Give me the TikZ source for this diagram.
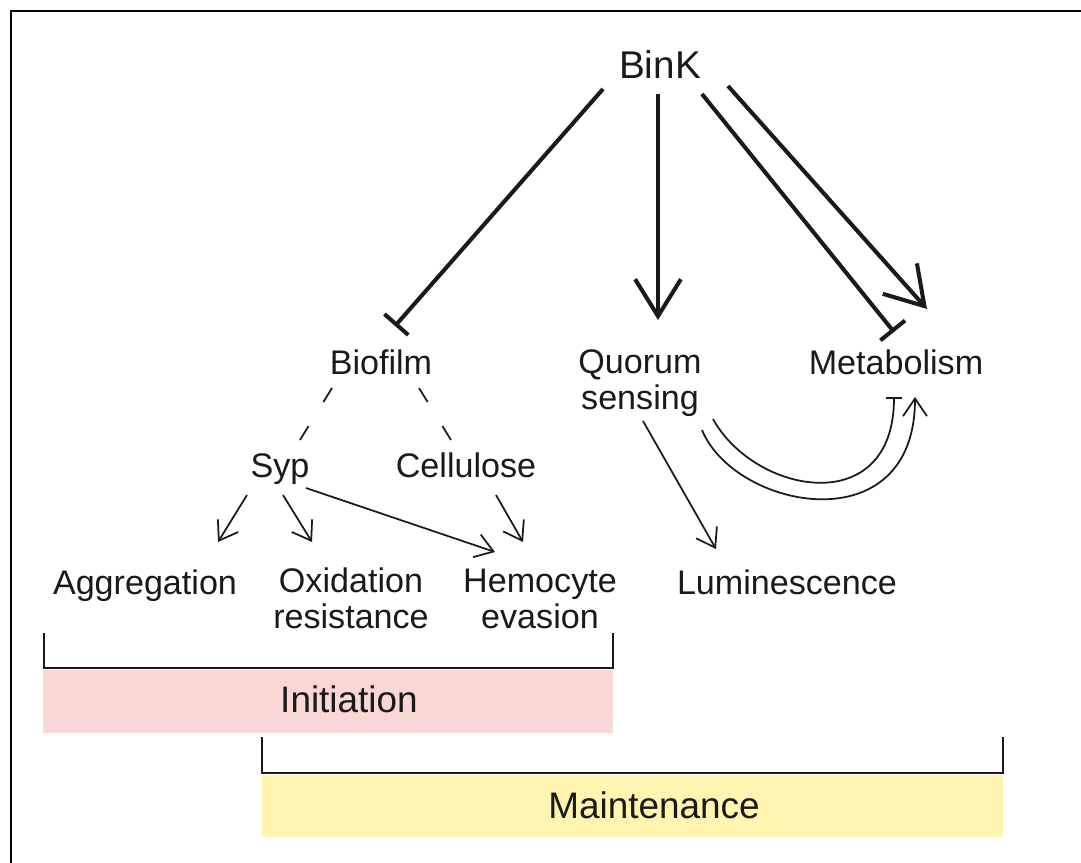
\documentclass[tikz,border=0pt]{standalone}
\usepackage{fontspec}
\setmainfont{Liberation Sans}
\usetikzlibrary{arrows.meta}
\definecolor{pinkc}{HTML}{F9D7D5}
\definecolor{yellowc}{HTML}{FFF5B0}
\definecolor{inkc}{HTML}{1A1A1A}
\begin{document}
\begin{tikzpicture}[x=0.01cm,y=-0.01cm,
  lbl/.style={font=\fontsize{9.7}{10}\selectfont, inner sep=0pt, anchor=base, align=center, text=inkc},
  big/.style={font=\fontsize{10.5}{12}\selectfont, inner sep=0pt, anchor=base, text=inkc},
  thickln/.style={line width=1.15pt, draw=inkc},
  thinln/.style={line width=0.5pt, draw=inkc},
  act/.style={-{Straight Barb[length=10.5pt,width=13pt]}},
  inh/.style={-{Bar[width=9pt]}},
  sact/.style={-{Straight Barb[length=5pt,width=6.8pt]}},
  sinh/.style={-{Bar[width=4.5pt]}},
  dsh/.style={line width=0.5pt, draw=inkc, dash pattern=on 4.7pt off 8pt},
  brk/.style={line width=0.75pt, draw=inkc},
]
\useasboundingbox (0,0) rectangle (1081,863);
% frame
\coordinate (fr1) at (1081,11);
\coordinate (fr2) at (11,11);
\coordinate (fr3) at (11,863);
\draw[line width=0.4pt] (fr1) -- (fr2) -- (fr3);

% phase boxes
\fill[pinkc] (43,670) rectangle (613,733);
\fill[yellowc] (262,775) rectangle (1003,837);
\coordinate (ib1) at (44,633); \coordinate (ib2) at (44,668);
\coordinate (ib3) at (613,668); \coordinate (ib4) at (613,633);
\draw[brk] (ib1) -- (ib2) -- (ib3) -- (ib4);
\coordinate (mb1) at (262,737); \coordinate (mb2) at (262,773);
\coordinate (mb3) at (1003,773); \coordinate (mb4) at (1003,737);
\draw[brk] (mb1) -- (mb2) -- (mb3) -- (mb4);
\node[big] (init) at (349,712) {Initiation};
\node[big] (maint) at (654,818) {Maintenance};

% labels (multi-line nodes: base = last line)
\node[lbl, font=\fontsize{11}{12}\selectfont] (bink) at (660,78) {BinK};
\node[lbl] (biofilm) at (381,374) {Biofilm};
\node[lbl] (quorum) at (640,409) {Quorum\\sensing};
\node[lbl] (metab) at (896,374) {Metabolism};
\node[lbl] (syp) at (280,477) {Syp};
\node[lbl] (cell) at (466,477) {Cellulose};
\node[lbl] (aggr) at (145,594) {Aggregation};
\node[lbl] (oxid) at (351,628) {Oxidation\\resistance};
\node[lbl] (hemo) at (540,628) {Hemocyte\\evasion};
\node[lbl] (lumi) at (787,594) {Luminescence};

% BinK connectors
\coordinate (bk1) at (603,89);  \coordinate (bfin) at (395,326);
\coordinate (bk2) at (658,94);  \coordinate (qsin) at (658,320);
\coordinate (bk3) at (702,94);  \coordinate (mtin1) at (894,332);
\coordinate (bk4) at (728,86);  \coordinate (mtin2) at (927,309);
\draw[thickln, inh] (bk1) -- (bfin);
\draw[thickln, act] (bk2) -- (qsin);
\draw[thickln, inh] (bk3) -- (mtin1);
\draw[thickln, act] (bk4) -- (mtin2);

% biofilm dashed
\coordinate (bf1) at (332,388); \coordinate (sy0) at (300,440);
\coordinate (bf2) at (419,388); \coordinate (ce0) at (451,440);
\draw[dsh] (bf1) -- (sy0);
\draw[dsh] (bf2) -- (ce0);

% thin arrows
\coordinate (sy1) at (247,495); \coordinate (ag0) at (218,542);
\coordinate (sy2) at (283,495); \coordinate (ox0) at (312,542);
\coordinate (sy3) at (306,488); \coordinate (he1) at (495,552);
\coordinate (ce1) at (496,495); \coordinate (he2) at (523,542);
\coordinate (qs1) at (643,421); \coordinate (lu0) at (716,549);
\draw[thinln, sact] (sy1) -- (ag0);
\draw[thinln, sact] (sy2) -- (ox0);
\draw[thinln, sact] (sy3) -- (he1);
\draw[thinln, sact] (ce1) -- (he2);
\draw[thinln, sact] (qs1) -- (lu0);

% curved QS -> metabolism
\coordinate (qs2) at (713,419); \coordinate (mt3) at (894,397);
\coordinate (qs3) at (702,430); \coordinate (mt4) at (915,397);
\draw[thinln, sinh] (qs2) .. controls (755,495) and (894,520) .. (mt3);
\draw[thinln, sact] (qs3) .. controls (735,510) and (915,545) .. (mt4);
\end{tikzpicture}
\end{document}
